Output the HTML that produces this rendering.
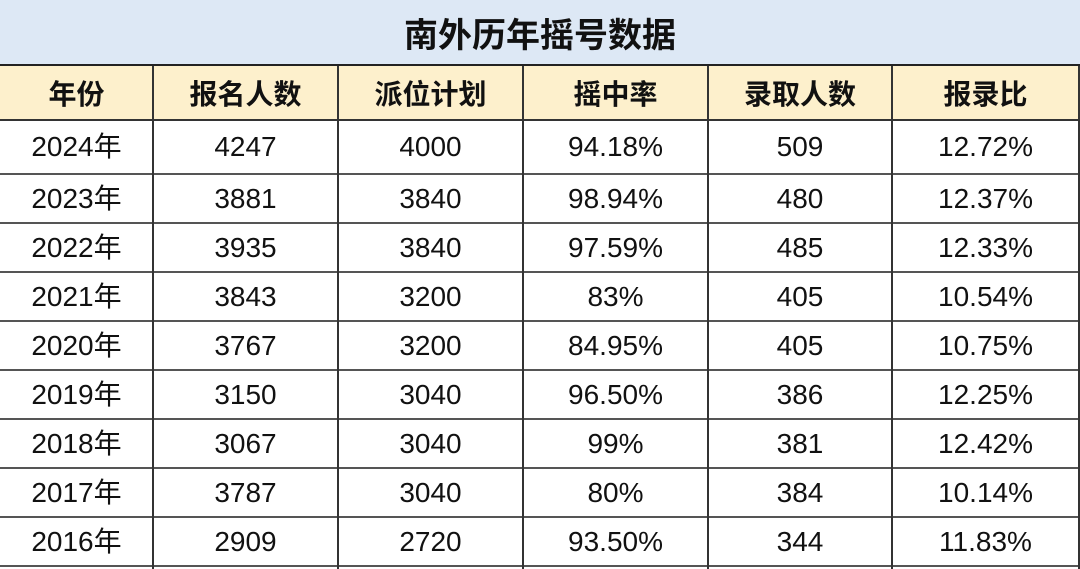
<!DOCTYPE html>
<html><head><meta charset="utf-8"><style>
*{margin:0;padding:0;box-sizing:border-box}
body{width:1080px;height:569px;overflow:hidden;background:#fff;font-family:"Liberation Sans","Noto Sans CJK SC",sans-serif;position:relative}
.title{position:absolute;left:0;top:0;width:1080px;height:66px;background:#dde8f5;border-bottom:2px solid #222;text-align:center;line-height:66px;font-size:34px;font-weight:bold;color:#111;font-family:"Noto Sans CJK SC",sans-serif}
.hdr{position:absolute;left:0;top:66px;width:1080px;height:54px;background:#fdf0cc}
.c{position:absolute;text-align:center;color:#111}
.h{font-weight:bold;font-size:28px;font-family:"Noto Sans CJK SC",sans-serif;line-height:54px;top:66px}
.d{font-size:28px}
.v{position:absolute;top:66px;height:503px;width:2px;background:#333}
.hl{position:absolute;left:0;width:1080px;height:2px;background:#555}
</style></head><body>
<div class="title">南外历年摇号数据</div>
<div class="hdr"></div>
<div id="t"></div>
<script>
var xs=[0,153,338,523,708,892,1079];
var h=["年份","报名人数","派位计划","摇中率","录取人数","报录比"];
var d=[["2024年","4247","4000","94.18%","509","12.72%"],["2023年","3881","3840","98.94%","480","12.37%"],["2022年","3935","3840","97.59%","485","12.33%"],["2021年","3843","3200","83%","405","10.54%"],["2020年","3767","3200","84.95%","405","10.75%"],["2019年","3150","3040","96.50%","386","12.25%"],["2018年","3067","3040","99%","381","12.42%"],["2017年","3787","3040","80%","384","10.14%"],["2016年","2909","2720","93.50%","344","11.83%"]];
var s="";
var ys=[120,174,223,272,321,370,419,468,517,566];
for(var i=0;i<6;i++){s+='<div class="c h" style="left:'+xs[i]+'px;width:'+(xs[i+1]-xs[i])+'px">'+h[i]+'</div>';}
for(var r=0;r<9;r++){var t=ys[r],hh=ys[r+1]-ys[r];for(var i=0;i<6;i++){s+='<div class="c d" style="left:'+xs[i]+'px;width:'+(xs[i+1]-xs[i])+'px;top:'+t+'px;height:'+hh+'px;line-height:'+hh+'px">'+d[r][i]+'</div>';}}
for(var r=0;r<10;r++)s+='<div class="hl" style="top:'+(ys[r]-1)+'px;'+(r==0?'background:#333':'')+'"></div>';
for(var i=1;i<7;i++)s+='<div class="v" style="left:'+(xs[i]-1)+'px"></div>';
document.getElementById("t").innerHTML=s;
</script>
</body></html>
